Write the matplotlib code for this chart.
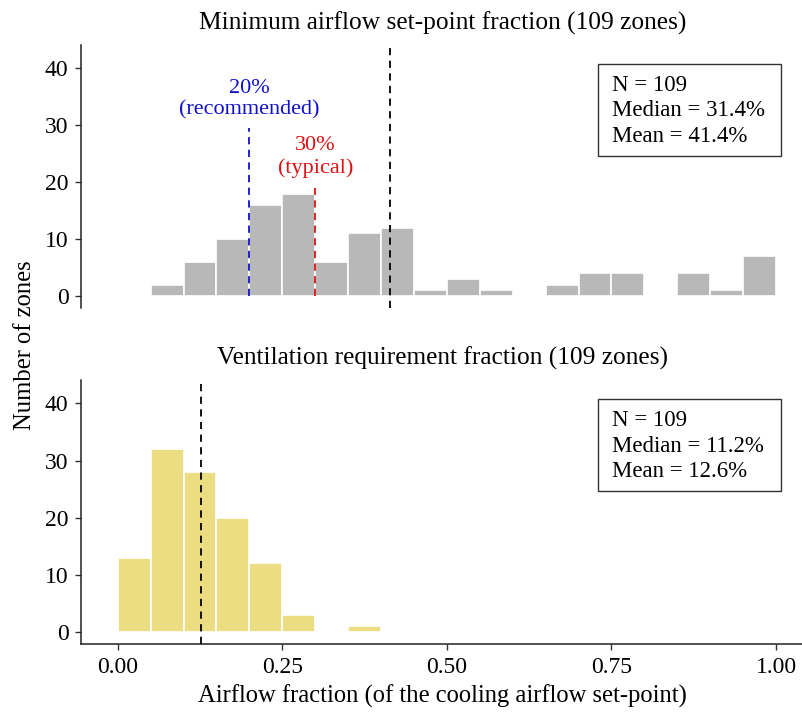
import matplotlib
matplotlib.use("Agg")
import matplotlib.pyplot as plt
from matplotlib.patches import Rectangle
import numpy as np

plt.rcParams['font.family'] = ['Liberation Serif', 'DejaVu Serif']

# ---- data ----
bin_edges = [0.00, 0.05, 0.10, 0.15, 0.20, 0.25, 0.30, 0.35, 0.40, 0.45,
             0.50, 0.55, 0.60, 0.65, 0.70, 0.75, 0.80, 0.85, 0.90, 0.95, 1.00]
min_airflow_counts = [0, 2, 6, 10, 16, 18, 6, 11, 12, 1,
                      3, 1, 0, 2, 4, 4, 0, 4, 1, 7]
vent_req_counts = [13, 32, 28, 20, 12, 3, 0, 1, 0, 0,
                   0, 0, 0, 0, 0, 0, 0, 0, 0, 0]
top_mean = 0.414
bottom_mean = 0.126
recommended = 0.20
typical = 0.30
top_title = "Minimum airflow set-point fraction (109 zones)"
bottom_title = "Ventilation requirement fraction (109 zones)"
top_stats = "N = 109\nMedian = 31.4%\nMean = 41.4%"
bottom_stats = "N = 109\nMedian = 11.2%\nMean = 12.6%"
x_ticks = [0.00, 0.25, 0.50, 0.75, 1.00]
x_tick_labels = ["0.00", "0.25", "0.50", "0.75", "1.00"]
y_ticks = [0, 10, 20, 30, 40]

W, H = 803, 713
fig = plt.figure(figsize=(W / 100, H / 100), dpi=100)

def rect(l, t, r, b):
    return [l / W, 1 - b / H, (r - l) / W, (b - t) / H]

ax1 = fig.add_axes(rect(81.5, 45, 803, 308))
ax2 = fig.add_axes(rect(81.5, 380, 803, 644))

grey = "#B8B8B8"
yellow = "#ECDD83"
tick_fs = 17
ann_fs = 16
stat_fs = 16.5
title_fs = 18.3
label_fs = 17.7

lefts = bin_edges[:-1]
widths = np.diff(bin_edges)

for ax, counts, color in [(ax1, min_airflow_counts, grey), (ax2, vent_req_counts, yellow)]:
    idx = [i for i, c in enumerate(counts) if c > 0]
    ax.bar([lefts[i] for i in idx], [counts[i] for i in idx],
           width=[widths[i] for i in idx], align='edge',
           color=color, edgecolor='white', linewidth=1.2, zorder=2)
    ax.set_xlim(-0.055, 1.041)
    ax.set_ylim(-2.1, 44.1)
    ax.set_yticks(y_ticks)
    ax.tick_params(axis='y', labelsize=tick_fs, length=4.3, width=1, color='#333333', pad=5)
    for s in ['top', 'right']:
        ax.spines[s].set_visible(False)
    ax.spines['left'].set_linewidth(1.1)
    ax.spines['left'].set_color('#222222')
    ax.set_facecolor('none')

# top panel
ax1.spines['bottom'].set_visible(False)
ax1.set_xticks([])
ax1.axvline(top_mean, color='black', linestyle=(0, (4, 3)), linewidth=1.3, zorder=3)
ax1.plot([recommended, recommended], [0, 29.5], color='#1010CC',
         linestyle=(0, (4, 3)), linewidth=1.3, zorder=3)
ax1.plot([typical, typical], [0, 19], color='#DD1111',
         linestyle=(0, (4, 3)), linewidth=1.3, zorder=3)
ax1.text(recommended, 34.6, "20%\n(recommended)", color='#1010CC', fontsize=ann_fs,
         ha='center', va='center', linespacing=1.2)
ax1.text(typical, 24.4, "30%\n(typical)", color='#DD1111', fontsize=ann_fs,
         ha='center', va='center', linespacing=1.2)
ax1.set_title(top_title, fontsize=title_fs, pad=11)

# bottom panel
ax2.spines['bottom'].set_linewidth(1.1)
ax2.spines['bottom'].set_color('#222222')
ax2.set_xticks(x_ticks)
ax2.set_xticklabels(x_tick_labels)
ax2.tick_params(axis='x', labelsize=tick_fs, length=4.3, width=1, color='#333333', pad=5)
ax2.axvline(bottom_mean, color='black', linestyle=(0, (4, 3)), linewidth=1.3, zorder=3)
ax2.set_title(bottom_title, fontsize=title_fs, pad=11)
ax2.set_xlabel("Airflow fraction (of the cooling airflow set-point)", fontsize=label_fs, labelpad=5)

# statistics boxes (pixel layout)
for txt, dy in [(top_stats, 0), (bottom_stats, 335)]:
    fig.patches.append(Rectangle((598.5 / W, 1 - (156 + dy) / H), (781 - 598.5) / W, 92 / H,
                                 transform=fig.transFigure, facecolor='white',
                                 edgecolor='#333333', linewidth=1, zorder=5))
    fig.text(612 / W, 1 - (111 + dy) / H, txt, fontsize=stat_fs, ha='left', va='center',
             linespacing=1.29, zorder=6)

fig.text(25 / W, 1 - 345 / H, "Number of zones", rotation=90, fontsize=label_fs,
         ha='center', va='center')

fig.savefig("out.png", dpi=100)
